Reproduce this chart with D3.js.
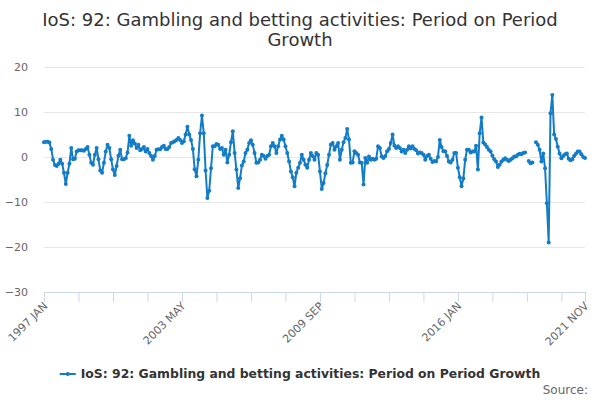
<!DOCTYPE html>
<html>
<head>
<meta charset="utf-8">
<script src="https://cdn.jsdelivr.net/npm/d3@7"></script>
<style>
  body { margin: 0; background: #fff; }
  svg { font-family: "DejaVu Sans", sans-serif; }
</style>
</head>
<body>
<svg id="chart" width="600" height="400"></svg>
<script>
// monthly categories, Jan 1997 .. Nov 2021
const monthNames = ['JAN', 'FEB', 'MAR', 'APR', 'MAY', 'JUN', 'JUL', 'AUG', 'SEP', 'OCT', 'NOV', 'DEC'];
const startYear = 1997;
const pointCount = 299;

// period on period growth, %, one row per year (null = no value)
const growth = [
  3.3, 3.4, 3.4, 3.2, 1.8, -0.6, -1.8, -2.0, -1.5, -0.6, -1.5, -3.5,      // 1997
  -6.0, -3.5, -1.5, 2.0, -0.5, -0.4, 1.2, 1.5, 1.5, 1.5, 1.4, 1.8,        // 1998
  2.2, 0.5, -1.3, -1.7, 0.5, 2.0, -0.5, -3.0, -3.5, -1.3, 1.2, 2.7,       // 1999
  2.0, -0.5, -2.8, -4.0, -2.0, 0.3, 1.6, -0.5, -0.5, -0.3, 1.0, 4.7,      // 2000
  2.5, 3.7, 3.0, 2.0, 2.7, 1.5, 1.8, 2.2, 1.2, 1.8, 0.9, 0.2,             // 2001
  -0.6, 0.2, 1.6, 1.7, 1.7, 2.2, 2.5, 1.8, 1.8, 2.2, 3.1, 3.3,            // 2002
  3.5, 3.8, 4.2, 3.8, 3.1, 3.5, 5.0, 6.7, 5.0, 3.8, 1.8, -2.7,            // 2003
  -4.3, -0.6, 5.3, 9.2, 5.3, -3.0, -9.1, -7.5, -2.5, 2.4, 2.4, 2.9,       // 2004
  2.7, 1.8, 2.0, 0.5, 1.6, -1.2, 0.5, 3.3, 5.7, 0.9, -2.8, -6.9,          // 2005
  -4.7, -1.9, -1.0, 0.9, 1.6, 3.1, 3.7, 2.7, 0.9, -1.3, -1.2, -0.6,       // 2006
  0.5, 0.2, -0.4, 0.2, 0.5, 2.4, 3.1, 2.4, 0.9, 2.4, 3.9, 4.7,            // 2007
  3.9, 2.4, 0.9, -1.0, -3.2, -4.5, -6.5, -3.5, -2.4, -1.3, 0.5, -0.6,     // 2008
  -1.7, -2.4, -0.6, 0.9, 0.2, -0.6, 0.9, 0.5, -3.2, -7.1, -5.8, -3.6,     // 2009
  -1.8, 0.5, 2.8, 3.1, 1.6, 2.4, 3.1, -0.6, 1.6, 3.3, 4.2, 6.2,           // 2010
  3.9, -1.3, -1.2, 1.3, 0.9, 0.5, -1.2, -1.3, -6.1, -0.2, -1.3, 0.1,      // 2011
  -0.6, -0.4, -0.6, -0.4, 2.4, 2.0, 0.1, -0.2, 0.2, 1.3, 1.8, 3.1,        // 2012
  5.0, 2.5, 2.0, 2.4, 2.0, 1.2, 1.6, 0.9, 1.6, 2.4, 1.9, 2.4,             // 2013
  1.8, 1.5, 0.8, 1.0, 0.9, 0.5, -0.6, 0.2, 0.5, -0.4, -1.1, -0.9,         // 2014
  -1.0, 0.0, 3.8, 2.2, 1.3, 1.3, 0.2, -1.0, -1.2, -0.6, 0.9, 0.9,         // 2015
  -2.4, -4.5, -6.5, -4.8, -0.6, 1.6, 1.6, 1.0, 1.2, 1.2, 2.5, -2.8,       // 2016
  5.3, 8.8, 3.2, 2.8, 2.2, 1.6, 1.2, 0.3, -0.5, -1.0, -2.2, -1.7,         // 2017
  -1.0, -0.6, -0.3, -0.6, -0.9, -0.6, -0.3, 0.1, 0.1, 0.5, 0.7, 0.6,      // 2018
  0.9, 1.0, null, -0.9, -1.4, -1.2, null, 3.3, 2.7, 1.6, -1.0, 0.8,       // 2019
  -2.5, -10.3, -19.0, 9.7, 13.8, 5.0, 4.0, 2.3, 0.8, -0.3, 0.2, 0.6,      // 2020
  0.8, -0.4, -0.7, -0.5, 0.2, 0.7, 1.2, 1.2, 0.6, 0.0, -0.2               // 2021
];

const yTicks = [-30, -20, -10, 0, 10, 20];
const xTickStep = 19;
const xLabels = ['1997 JAN', '2003 MAY', '2009 SEP', '2016 JAN', '2021 NOV'];

const seriesName = 'IoS: 92: Gambling and betting activities: Period on Period Growth';
const titleLines = ['IoS: 92: Gambling and betting activities: Period on Period', 'Growth'];

const categories = d3.range(pointCount).map(i =>
  (startYear + Math.floor(i / 12)) + ' ' + monthNames[i % 12]);
const data = growth.map((v, i) => ({ i: i, label: categories[i], value: v }));

const svg = d3.select('#chart');
const plotLeft = 44, plotRight = 585, plotTop = 67, plotBottom = 292;
const colour = '#137cc6';

const x = d3.scaleLinear().domain([0, pointCount - 1]).range([plotLeft, plotRight]);
const y = d3.scaleLinear().domain([-30, 20]).range([plotBottom, plotTop]);

// title
svg.append('text')
  .attr('x', 300).attr('y', 26)
  .attr('text-anchor', 'middle')
  .attr('font-size', 18).attr('fill', '#333')
  .selectAll('tspan')
  .data(titleLines)
  .enter()
  .append('tspan')
  .attr('x', 300)
  .attr('dy', (d, i) => i === 0 ? 0 : 20)
  .text(d => d);

// y grid and labels
const yAxis = svg.append('g')
  .attr('transform', 'translate(' + plotLeft + ',0)')
  .call(d3.axisLeft(y).tickValues(yTicks).tickSize(-(plotRight - plotLeft)).tickPadding(16));
yAxis.select('.domain').remove();
yAxis.selectAll('.tick line').attr('stroke', '#e6e6e6');
yAxis.selectAll('.tick text')
  .attr('fill', '#666').attr('font-size', 11)
  .attr('font-family', '"DejaVu Sans", sans-serif');
yAxis.select('.tick:first-of-type line').remove();

// x axis
const tickIdx = d3.range(0, pointCount, xTickStep).concat([pointCount - 1]);
const labelIdx = xLabels.map(l => categories.indexOf(l));
const xAxis = svg.append('g')
  .attr('transform', 'translate(0,' + plotBottom + ')')
  .call(d3.axisBottom(x).tickValues(tickIdx).tickSize(10).tickSizeOuter(0)
    .tickFormat(i => labelIdx.includes(i) ? categories[i] : ''));
xAxis.select('.domain').attr('stroke', '#ccd6eb');
xAxis.selectAll('.tick line').attr('stroke', '#ccd6eb');
xAxis.selectAll('.tick text')
  .attr('fill', '#666').attr('font-size', 11)
  .attr('font-family', '"DejaVu Sans", sans-serif')
  .attr('text-anchor', 'end')
  .attr('y', 0)
  .attr('dy', '0.35em')
  .attr('transform', 'translate(1,12) rotate(-45)');

// series line with markers
const line = d3.line()
  .defined(d => d.value !== null)
  .x(d => x(d.i))
  .y(d => y(d.value));

svg.append('path')
  .datum(data)
  .attr('fill', 'none')
  .attr('stroke', colour)
  .attr('stroke-width', 2)
  .attr('stroke-linejoin', 'round')
  .attr('d', line);

svg.append('g')
  .selectAll('circle')
  .data(data.filter(d => d.value !== null))
  .enter()
  .append('circle')
  .attr('cx', d => x(d.i))
  .attr('cy', d => y(d.value))
  .attr('r', 2)
  .attr('fill', colour);

// legend
const legend = svg.append('g').attr('transform', 'translate(300,374)');
const legendText = legend.append('text')
  .attr('font-size', 12.4).attr('font-weight', 'bold').attr('fill', '#333')
  .attr('dy', '0.35em')
  .text(seriesName);
const tw = legendText.node().getComputedTextLength();
const lx = -(tw + 21) / 2;
legendText.attr('x', lx + 21);
legend.append('line')
  .attr('x1', lx).attr('x2', lx + 16).attr('y1', 0).attr('y2', 0)
  .attr('stroke', colour).attr('stroke-width', 2);
legend.append('circle')
  .attr('cx', lx + 8).attr('cy', 0).attr('r', 2).attr('fill', colour);

// source
svg.append('text')
  .attr('x', 588).attr('y', 394)
  .attr('text-anchor', 'end')
  .attr('font-size', 12).attr('fill', '#666')
  .text('Source:');
</script>
</body>
</html>
